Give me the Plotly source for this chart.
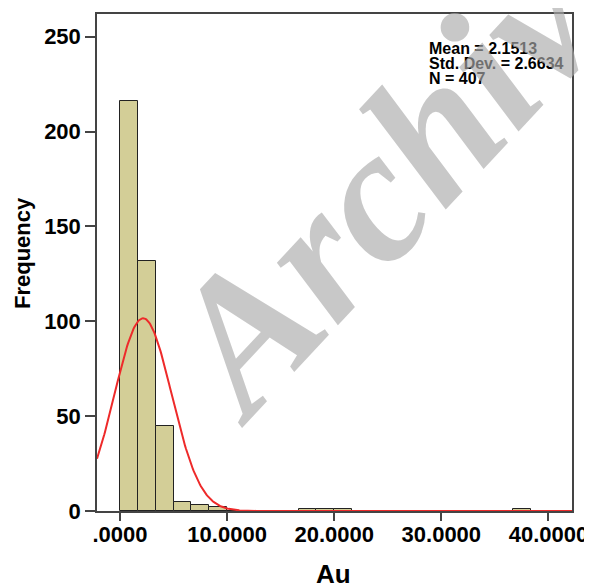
import numpy as np
import plotly.graph_objects as go

# Histogram data (SPSS style, bin width ~1.6667 starting at 0)
bin_start = 0.0
bin_width = 10.0 / 6.0
counts = [216, 132, 45, 5, 3, 2, 0, 0, 0, 0, 1, 1, 1, 0, 0, 0, 0, 0, 0, 0, 0, 0, 1]

mean_val = 2.1513
std_val = 2.6634
n_val = 407

x_tickvals = [0, 10, 20, 30, 40]
x_ticktext = [".0000", "10.0000", "20.0000", "30.0000", "40.0000"]
y_tickvals = [0, 50, 100, 150, 200, 250]

x_range = [-2.15, 42.2]
y_range = [0, 262]

centers = [bin_start + bin_width * (i + 0.5) for i in range(len(counts))]

fig = go.Figure()
fig.add_trace(go.Bar(
    x=centers, y=counts, width=bin_width,
    marker=dict(color="#d3ce97", line=dict(color="#222222", width=1)),
    hoverinfo="skip",
))

xs = np.linspace(x_range[0], x_range[1], 600)
ys = n_val * bin_width / (std_val * np.sqrt(2 * np.pi)) * np.exp(-0.5 * ((xs - mean_val) / std_val) ** 2)
fig.add_trace(go.Scatter(x=xs, y=ys, mode="lines", line=dict(color="#ee2a2a", width=2), hoverinfo="skip"))

font_b = "Arial, 'Liberation Sans', sans-serif"

# page body has an 8px margin; size figure to the visible area
fig.update_layout(
    width=584, height=579,
    margin=dict(l=89, r=20, t=4, b=76),
    paper_bgcolor="white", plot_bgcolor="white",
    showlegend=False,
    bargap=0,
    font=dict(family=font_b, color="black"),
    xaxis=dict(
        range=x_range, tickvals=x_tickvals, ticktext=x_ticktext,
        ticks="outside", ticklen=8, tickcolor="#444444", tickwidth=1.5,
        showline=True, linecolor="#444444", linewidth=1.5, mirror=True,
        showgrid=False, zeroline=False, ticklabelstandoff=-5,
        tickfont=dict(size=22, family=font_b, weight="bold"),
    ),
    yaxis=dict(
        range=y_range, tickvals=y_tickvals,
        ticks="outside", ticklen=10, tickcolor="#444444", tickwidth=1.5,
        showline=True, linecolor="#444444", linewidth=1.5, mirror=True,
        showgrid=False, zeroline=False,
        tickfont=dict(size=22, family=font_b, weight="bold"),
    ),
)

# axis titles
fig.add_annotation(xref="paper", yref="paper", x=-0.158, y=0.519, xanchor="center", yanchor="middle",
                   text="<b>Frequency</b>", textangle=-90, showarrow=False,
                   font=dict(size=22, family=font_b, color="black"))
fig.add_annotation(xref="paper", yref="paper", x=0.497, y=-0.126, xanchor="center", yanchor="middle",
                   text="<b>Au</b>", showarrow=False,
                   font=dict(size=26, family=font_b, color="black"))

# stats box
stat_lines = [f"Mean = {mean_val}", f"Std. Dev. = {std_val}", f"N = {n_val}"]
stat_y = [0.931, 0.900, 0.870]
for txt, yy in zip(stat_lines, stat_y):
    fig.add_annotation(
        xref="paper", yref="paper", x=0.695, y=yy, xanchor="left", yanchor="middle",
        text=f"<b>{txt}</b>", showarrow=False, align="left",
        font=dict(size=16, family=font_b, color="black"),
    )

# Watermark
fig.add_annotation(
    xref="paper", yref="paper", x=0.653, y=0.713, xanchor="center", yanchor="middle",
    text="<b><i>Archive</i></b>", showarrow=False, textangle=-47,
    font=dict(size=190, family="'Liberation Serif', 'Times New Roman', serif", color="rgba(170,170,170,0.65)"),
)

fig.write_html("out.html")
